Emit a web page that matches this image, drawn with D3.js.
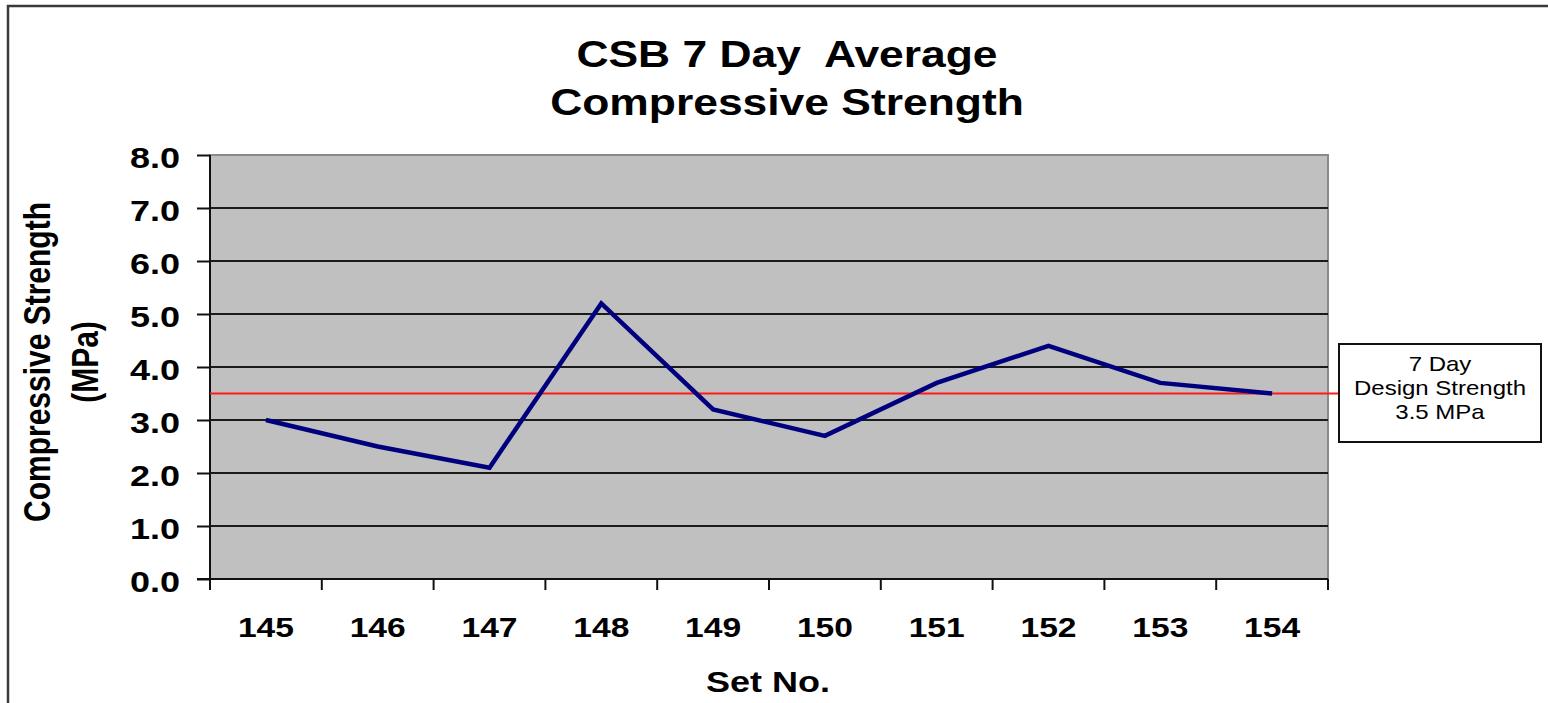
<!DOCTYPE html>
<html>
<head>
<meta charset="utf-8">
<script src="https://cdn.jsdelivr.net/npm/d3@7"></script>
<style>
body { margin: 0; background: #fff; }
text { font-family: "Liberation Sans", Arial, sans-serif; fill: #000; }
</style>
</head>
<body>
<div id="container"></div>
<script>
// data
var setNo = ["145", "146", "147", "148", "149", "150", "151", "152", "153", "154"];
var strength = [3.0, 2.5, 2.1, 5.2, 3.2, 2.7, 3.7, 4.4, 3.7, 3.5];
var yTicks = [0, 1, 2, 3, 4, 5, 6, 7, 8];
var designStrength = [3.5];
var designLabel = ["7 Day", "Design Strength", "3.5 MPa"];
var titleLines = ["CSB 7 Day  Average", "Compressive Strength"];
var yTitleLines = ["Compressive Strength", "(MPa)"];
var xTitle = "Set No.";

var svgAttr = { width: 1548, height: 703 };
var plot = { left: 210, right: 1328, top: 155, bottom: 579 };
var SX = 1.2; // the source text is a bit wide

var svg = d3.select("#container").append("svg")
    .attr("width", svgAttr.width).attr("height", svgAttr.height);

// outer chart border (runs off the right and bottom)
svg.append("rect").attr("x", 8).attr("y", 6).attr("width", 1700).attr("height", 900)
    .attr("fill", "none").attr("stroke", "#3a3a3a").attr("stroke-width", 2.5);

var x = d3.scaleBand().domain(setNo).range([plot.left, plot.right]);
var y = d3.scaleLinear().domain([0, 8]).range([plot.bottom, plot.top]);

// plot area
svg.append("rect").attr("x", plot.left).attr("y", plot.top)
    .attr("width", plot.right - plot.left).attr("height", plot.bottom - plot.top)
    .attr("fill", "#c0c0c0").attr("stroke", "#8a8a8a").attr("stroke-width", 2);

// gridlines
svg.append("g").selectAll("line").data(yTicks.filter(function (d) { return d > 0 && d < 8; }))
    .enter().append("line")
    .attr("x1", plot.left).attr("x2", plot.right)
    .attr("y1", function (d) { return y(d); }).attr("y2", function (d) { return y(d); })
    .attr("stroke", "#1a1a1a").attr("stroke-width", 2);

// y axis
var yAxis = d3.axisLeft(y).tickValues(yTicks).tickSize(13).tickPadding(12)
    .tickFormat(d3.format(".1f"));
var gy = svg.append("g").attr("transform", "translate(" + plot.left + ",0)").call(yAxis);
gy.select(".domain").remove();
gy.selectAll(".tick line").attr("stroke", "#111").attr("stroke-width", 2);
gy.selectAll(".tick text").attr("font-size", 30).attr("font-weight", "bold")
    .attr("font-family", "Liberation Sans, Arial, sans-serif")
    .attr("dy", "0.4em").attr("fill", "#000")
    .attr("transform", "scale(" + SX + ",1)");

// x axis labels
var xAxis = d3.axisBottom(x).tickSize(0).tickPadding(38);
var gx = svg.append("g").attr("transform", "translate(0," + plot.bottom + ")").call(xAxis);
gx.select(".domain").remove();
gx.selectAll(".tick text").attr("font-size", 28).attr("font-weight", "bold")
    .attr("font-family", "Liberation Sans, Arial, sans-serif").attr("fill", "#000")
    .attr("transform", "scale(" + SX + ",1)");

// x tick marks sit between the categories
var edges = d3.range(setNo.length + 1).map(function (i) { return x.range()[0] + i * x.step(); });
svg.append("g").selectAll("line").data(edges).enter().append("line")
    .attr("x1", function (d) { return d; }).attr("x2", function (d) { return d; })
    .attr("y1", plot.bottom).attr("y2", plot.bottom + 11)
    .attr("stroke", "#111").attr("stroke-width", 2);

// axis lines
svg.append("line").attr("x1", plot.left).attr("x2", plot.left)
    .attr("y1", plot.top).attr("y2", plot.bottom + 11)
    .attr("stroke", "#111").attr("stroke-width", 2);
svg.append("line").attr("x1", plot.left - 13).attr("x2", plot.right)
    .attr("y1", plot.bottom).attr("y2", plot.bottom)
    .attr("stroke", "#111").attr("stroke-width", 2);

// annotation box
var box = { x: 1339, y: 344, w: 202, h: 98 };

// design strength line
svg.append("g").selectAll("line").data(designStrength).enter().append("line")
    .attr("x1", plot.left).attr("x2", box.x)
    .attr("y1", function (d) { return y(d); }).attr("y2", function (d) { return y(d); })
    .attr("stroke", "#ff1a1a").attr("stroke-width", 2);

// series line
var line = d3.line()
    .x(function (d, i) { return x(setNo[i]) + x.bandwidth() / 2; })
    .y(function (d) { return y(d); });
svg.append("path").datum(strength).attr("d", line)
    .attr("fill", "none").attr("stroke", "#00007f").attr("stroke-width", 4.5)
    .attr("stroke-linejoin", "miter");

svg.append("rect").attr("x", box.x).attr("y", box.y).attr("width", box.w).attr("height", box.h)
    .attr("fill", "#fff").attr("stroke", "#111").attr("stroke-width", 2);
svg.append("g").selectAll("text").data(designLabel).enter().append("text")
    .attr("transform", function (d, i) {
        return "translate(" + (box.x + box.w / 2) + "," + (371 + i * 23.8) + ") scale(" + SX + ",1)";
    })
    .attr("text-anchor", "middle").attr("font-size", 20).text(function (d) { return d; });

// title
svg.append("g").selectAll("text").data(titleLines).enter().append("text")
    .attr("transform", function (d, i) {
        return "translate(787," + (67 + i * 47.5) + ") scale(" + SX + ",1)";
    })
    .attr("text-anchor", "middle").attr("font-size", 37).attr("font-weight", "bold")
    .style("white-space", "pre").text(function (d) { return d; });

// y title
svg.append("g").selectAll("text").data(yTitleLines).enter().append("text")
    .attr("transform", function (d, i) {
        return "translate(" + (50 + i * 48) + ",362) scale(" + SX + ",1) rotate(-90)";
    })
    .attr("text-anchor", "middle").attr("font-size", 30).attr("font-weight", "bold")
    .text(function (d) { return d; });

// x title
svg.append("text")
    .attr("transform", "translate(768,692) scale(" + SX + ",1)")
    .attr("text-anchor", "middle").attr("font-size", 30).attr("font-weight", "bold")
    .text(xTitle);
</script>
</body>
</html>
